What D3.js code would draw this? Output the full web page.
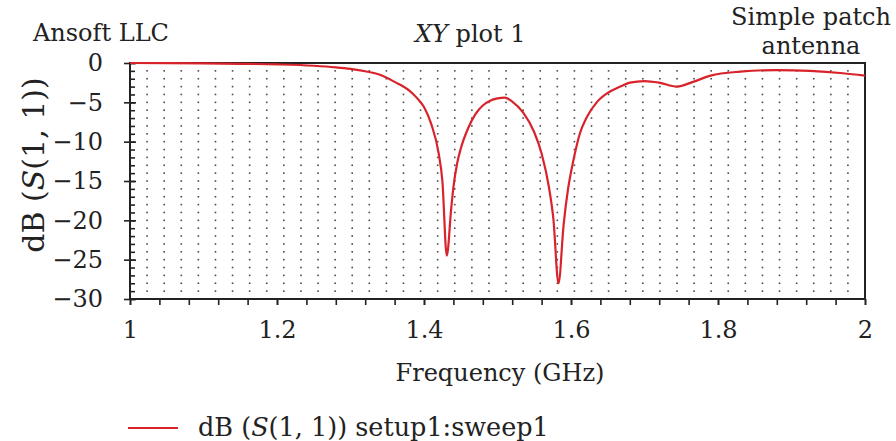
<!DOCTYPE html>
<html lang="en">
    <head>
        <meta charset="utf-8">
        <title>XY plot 1</title>
        <script type="text/javascript" src="https://cdn.jsdelivr.net/npm/d3@7"></script>
        <style>
            body { margin: 0; background: #fff; }
            svg text { font-family: "DejaVu Serif", serif; fill: #222; font-size: 24px; }
        </style>
    </head>
    <body>
        <div class="example"></div>
        <script type="text/javascript">
            // data
            var freq = [1.00, 1.05, 1.10, 1.15, 1.20, 1.25, 1.28, 1.30, 1.32, 1.34, 1.36, 1.38, 1.39, 1.40, 1.41, 1.42, 1.425,
                        1.431, 1.437, 1.440, 1.445, 1.45, 1.46, 1.47, 1.48, 1.49, 1.50, 1.51, 1.52, 1.535, 1.55, 1.56, 1.57,
                        1.576, 1.583, 1.59, 1.596, 1.603, 1.612, 1.622, 1.635, 1.65, 1.667, 1.68, 1.70, 1.72, 1.744, 1.766,
                        1.79, 1.83, 1.88, 1.925, 1.97, 2.00];
            var s11 = [0, -0.02, -0.05, -0.1, -0.18, -0.35, -0.55, -0.75, -1.05, -1.5, -2.4, -3.5, -4.4, -5.6, -7.8, -11.5, -15.0,
                       -24.5, -18.5, -15.8, -12.8, -10.9, -8.3, -6.5, -5.4, -4.8, -4.5, -4.4, -4.9, -6.3, -8.8, -11.5, -15.8,
                       -19.8, -28.0, -20.5, -16.0, -12.5, -9.0, -6.8, -5.0, -3.8, -3.0, -2.5, -2.3, -2.5, -3.0, -2.4,
                       -1.6, -1.1, -0.9, -1.0, -1.3, -1.6];
            var xTicks = [1, 1.2, 1.4, 1.6, 1.8, 2];
            var yTicks = [0, -5, -10, -15, -20, -25, -30];
            var xMinorStep = 0.04;
            var yMinorStep = 1;
            var gridCols = 43;

            var w = 896;
            var h = 441;
            var svg = d3.select("body div.example")
                        .append("svg")
                        .attr("width", w)
                        .attr("height", h);

            var xScale = d3.scaleLinear().domain([1, 2]).range([130, 865]);
            var yScale = d3.scaleLinear().domain([-30, 0]).range([299, 63]);

            // dotted grid
            var gx = d3.range(1, gridCols).map(function(i){ return 1 + i / gridCols; });
            var gy = d3.range(-29, 0, 1);
            var dots = [];
            gx.forEach(function(f){ gy.forEach(function(v){ dots.push([f, v]); }); });
            svg.append("g").selectAll("rect")
               .data(dots)
               .enter()
               .append("rect")
               .attr("x", function(d){ return xScale(d[0]) - 0.8; })
               .attr("y", function(d){ return yScale(d[1]) - 0.8; })
               .attr("width", 1.6)
               .attr("height", 1.6)
               .attr("fill", "#4a4a4a");

            // minor ticks
            var fmtX = function(d){ return String(+d.toFixed(1)); };
            var fmtY = function(d){ return d < 0 ? "\u2212" + (-d) : String(d); };
            var xMinor = d3.axisBottom(xScale)
                           .tickValues(d3.range(1, 2.0001, xMinorStep))
                           .tickSize(6).tickFormat("");
            var yMinor = d3.axisRight(yScale)
                           .tickValues(d3.range(-30, 0.0001, yMinorStep))
                           .tickSize(5).tickFormat("");
            svg.append("g").attr("class", "minor")
               .attr("transform", "translate(0," + yScale(-30) + ")")
               .call(xMinor);
            svg.append("g").attr("class", "minor")
               .attr("transform", "translate(" + xScale(1) + ",0)")
               .call(yMinor);

            // major axes
            var xAxis = d3.axisBottom(xScale).tickValues(xTicks).tickSize(6).tickPadding(16).tickFormat(fmtX);
            var yAxis = d3.axisLeft(yScale).tickValues(yTicks).tickSize(6).tickPadding(21).tickFormat(fmtY);
            svg.append("g").attr("class", "x axis")
               .attr("transform", "translate(0," + yScale(-30) + ")")
               .call(xAxis);
            svg.append("g").attr("class", "y axis")
               .attr("transform", "translate(" + xScale(1) + ",0)")
               .call(yAxis);
            // major y ticks cross into the plot
            svg.append("g").attr("transform", "translate(" + xScale(1) + ",0)")
               .call(d3.axisRight(yScale).tickValues(yTicks).tickSize(6).tickFormat(""));

            svg.selectAll(".domain").remove();
            svg.selectAll(".tick line").attr("stroke", "#222").attr("stroke-width", 1.6);
            svg.selectAll(".axis .tick text")
               .attr("fill", "#222")
               .style("font-size", "24px")
               .style("font-family", "DejaVu Serif, serif");

            // frame
            svg.append("rect")
               .attr("x", xScale(1))
               .attr("y", yScale(0))
               .attr("width", xScale(2) - xScale(1))
               .attr("height", yScale(-30) - yScale(0))
               .attr("fill", "none")
               .attr("stroke", "#222")
               .attr("stroke-width", 2);

            // curve
            var line = d3.line()
                         .x(function(d, i){ return xScale(freq[i]); })
                         .y(function(d){ return yScale(d); })
                         .curve(d3.curveMonotoneX);
            svg.append("path")
               .datum(s11)
               .attr("d", line)
               .attr("fill", "none")
               .attr("stroke", "#d9232b")
               .attr("stroke-width", 2.2);

            // titles
            svg.append("text").attr("x", 33).attr("y", 41).text("Ansoft LLC");
            var t = svg.append("text").attr("x", 415).attr("y", 42);
            t.append("tspan").style("font-style", "italic").text("XY");
            t.append("tspan").text(" plot 1");
            svg.append("text").attr("x", 811).attr("y", 25).attr("text-anchor", "middle").text("Simple patch");
            svg.append("text").attr("x", 811).attr("y", 54).attr("text-anchor", "middle").text("antenna");

            // axis labels
            svg.append("text").attr("x", 500).attr("y", 381).attr("text-anchor", "middle").text("Frequency (GHz)");
            var yl = svg.append("text")
                        .attr("transform", "translate(44,165) rotate(-90)")
                        .attr("text-anchor", "middle")
                        .style("font-size", "30px");
            yl.append("tspan").text("dB (");
            yl.append("tspan").style("font-style", "italic").text("S");
            yl.append("tspan").text("(1, 1))");

            // legend
            svg.append("line")
               .attr("x1", 128).attr("x2", 178).attr("y1", 428).attr("y2", 428)
               .attr("stroke", "#d9232b").attr("stroke-width", 2);
            var lg = svg.append("text").attr("x", 198).attr("y", 436).style("font-size", "25.5px");
            lg.append("tspan").text("dB (");
            lg.append("tspan").style("font-style", "italic").text("S");
            lg.append("tspan").text("(1, 1)) setup1:sweep1");
        </script>
    </body>
</html>
